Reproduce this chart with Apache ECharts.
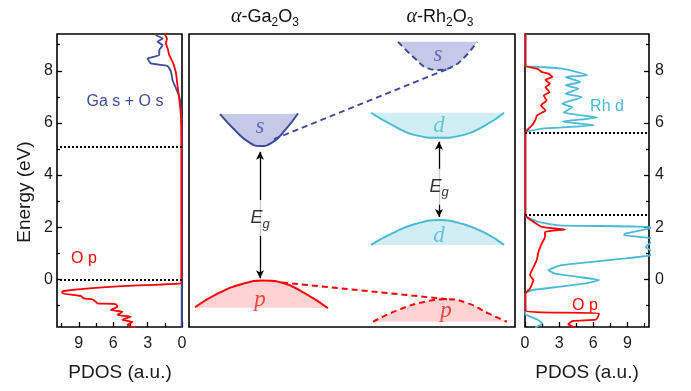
<!DOCTYPE html>
<html><head><meta charset="utf-8">
<script src="https://cdn.jsdelivr.net/npm/echarts@6/dist/echarts.min.js"></script>
<style>html,body{margin:0;padding:0;background:#fff}#c{width:691px;height:391px}</style>
</head><body><div id="c"></div>
<script>
// ---------- axes ----------
const energyRange = [-1.83, 9.41];
const energyTicks = [0, 2, 4, 6, 8];
const energyMinorTicks = [-1, 1, 3, 5, 7, 9];
const pdosRange = [0, 10.9];
const pdosTicks = [0, 3, 6, 9];
const pdosMinorTicks = [1.5, 4.5, 7.5, 10.5];
const schemeRange = [0, 326];

// ---------- PDOS data: [pdos, energy] ----------
const gaOpPdos = [[1.46,9.41],[1.46,9.37],[1.31,9.24],[1.4,9.05],[1.25,8.85],[1.11,8.6],[0.82,8.34],[0.67,8.15],[0.52,7.9],[0.38,7.39],[0.23,6.88],[0.09,6.24],[0.05,5.5],[0.05,0.0],[0.09,-0.155],[5.19,-0.26],[8.1,-0.345],[10.15,-0.44],[10.44,-0.475],[10.44,-0.54],[8.84,-0.64],[8.55,-0.73],[7.82,-0.77],[7.52,-0.86],[7.38,-0.92],[5.77,-0.95],[5.63,-1.05],[6.21,-1.18],[5.19,-1.24],[5.63,-1.37],[4.46,-1.43],[5.19,-1.56],[4.31,-1.63],[4.75,-1.75],[4.02,-1.88]];
const gaSPdos = [[2.27,9.41],[2.27,9.37],[1.69,9.24],[2.13,9.11],[1.69,8.98],[1.98,8.79],[1.98,8.6],[3.0,8.47],[2.71,8.28],[1.25,8.18],[0.96,7.96],[0.82,7.64],[0.52,7.32],[0.23,7.0],[0.09,6.49],[0.04,6.0],[0.03,-1.9]];
const rhOpPdos = [[0.05,9.41],[0.05,8.2],[0.05,8.17],[1.06,8.08],[1.5,7.95],[2.1,7.88],[2.4,7.76],[1.8,7.65],[2.2,7.5],[1.8,7.37],[2.15,7.18],[1.65,7.05],[1.9,6.86],[1.4,6.67],[1.8,6.48],[1.06,6.29],[0.9,6.1],[0.6,5.9],[0.18,5.72],[0.04,5.65],[0.04,2.5],[0.15,2.39],[1.47,2.01],[3.53,1.91],[1.76,1.82],[1.76,1.63],[1.47,1.37],[1.18,1.05],[1.03,0.73],[0.74,0.47],[0.44,0.16],[0.74,-0.03],[0.44,-0.35],[0.04,-0.55],[0.04,-1.2],[1.5,-1.27],[6.5,-1.3],[6.4,-1.45],[6.2,-1.55],[4.2,-1.6],[3.8,-1.72],[4.4,-1.85]];
const rhDPdos = [[0.03,9.41],[0.03,8.2],[1.2,8.15],[3.27,8.08],[5.47,7.83],[3.56,7.76],[4.88,7.57],[3.56,7.44],[4.7,7.31],[3.56,7.12],[5.0,6.99],[3.27,6.73],[4.15,6.6],[3.4,6.4],[6.35,6.21],[3.27,6.05],[6.06,5.91],[1.5,5.78],[0.3,5.68],[0.03,5.65],[0.03,2.5],[0.15,2.39],[1.18,2.2],[2.94,2.07],[11.5,2.0],[8.8,1.75],[8.7,1.69],[10.0,1.63],[11.5,1.55],[10.6,1.24],[11.2,1.05],[11.0,0.92],[8.8,0.8],[5.9,0.67],[3.2,0.54],[2.06,0.35],[2.65,0.22],[4.7,0.09],[6.5,-0.03],[5.3,-0.16],[2.94,-0.29],[0.59,-0.42],[0.03,-0.55],[0.03,-1.35],[0.18,-1.38],[1.2,-1.57],[1.5,-1.7],[0.9,-1.85]];
const gaGapEdges = [0, 5.08];
const rhGapEdges = [2.46, 5.62];

// ---------- schematic bands: [x, energy] ----------
const gaSBand = [[31,6.34],[46,5.72],[59,5.28],[71,5.11],[83,5.24],[96,5.72],[109,6.36]];
const gaSBandEdge = 6.34;
const rhSBand = [[209,9.11],[226,8.47],[239,8.09],[249,8.03],[263,8.15],[276,8.54],[288,9.11]];
const rhSBandEdge = 9.11;
const rhDUpperBand = [[182,6.39],[203,5.92],[226,5.53],[250,5.43],[274,5.53],[297,5.92],[315,6.39]];
const rhDUpperEdge = 6.39;
const rhDLowerBand = [[182,1.32],[203,1.76],[226,2.12],[250,2.27],[274,2.12],[297,1.76],[315,1.32]];
const rhDLowerEdge = 1.32;
const gaPBand = [[6,-1.07],[29,-0.54],[53,-0.18],[73,-0.05],[93,-0.13],[116,-0.54],[139,-1.11]];
const gaPBandEdge = -1.09;
const rhPBand = [[184,-1.63],[209,-1.18],[236,-0.86],[259,-0.77],[279,-0.92],[299,-1.3],[318,-1.63]];
const rhPBandEdge = -1.63;
const sLink = [[85,5.38],[262,8.12]];
const pLink = [[93,-0.12],[263,-0.78]];
const gaGapArrow = [[71,4.89],[71,0.04]];
const rhGapArrow = [[250,5.28],[250,2.39]];
const gapLabelPos = [[71,2.35],[250,3.55]];
const bandLetterNames = ['s','s','d','d','p','p'];
const bandLetterPos = [[71,5.85],[249,8.62],[250,5.9],[250,1.66],[71,-0.8],[257,-1.22]];

// ---------- styles ----------
const FONT = 'Liberation Sans, Arial, sans-serif';
const SERIF = 'Liberation Serif, Times New Roman, serif';
const BLUE = '#3d4b9b', CYAN = '#4bbad6', RED = '#ff0000';
const BLUE_FILL = 'rgba(90,100,185,0.35)', CYAN_FILL = 'rgba(75,186,214,0.25)', RED_FILL = 'rgba(255,80,80,0.25)';
const letterColors = ['#4f58a6','#4f58a6',CYAN,CYAN,'#e8201a','#e8201a'];

const chart = echarts.init(document.getElementById('c'), null, {renderer:'canvas'});

function energyAxes(grid, pos) {
  return [{
    type:'value', gridIndex:grid, position:pos, min:energyRange[0], max:energyRange[1],
    axisLine:{show:false, onZero:false}, splitLine:{show:false},
    axisTick:{show:true, inside:true, length:5, customValues:energyTicks, lineStyle:{color:'#000', width:1.3}},
    axisLabel:{show:true, customValues:energyTicks, fontSize:16, color:'#1a1a1a', fontFamily:FONT, margin: pos==='left'?4:6}
  },{
    type:'value', gridIndex:grid, position:pos, min:energyRange[0], max:energyRange[1],
    axisLine:{show:false, onZero:false}, splitLine:{show:false},
    axisTick:{show:true, inside:true, length:3, customValues:energyMinorTicks, lineStyle:{color:'#000', width:1.3}},
    axisLabel:{show:false}
  }];
}
function pdosAxes(grid, inverse) {
  return [{
    type:'value', gridIndex:grid, position:'bottom', min:pdosRange[0], max:pdosRange[1], inverse,
    axisLine:{show:false, onZero:false}, splitLine:{show:false},
    axisTick:{show:true, inside:true, length:5, customValues:pdosTicks, lineStyle:{color:'#000', width:1.3}},
    axisLabel:{customValues:pdosTicks, fontSize:16, color:'#1a1a1a', fontFamily:FONT, margin:9}
  },{
    type:'value', gridIndex:grid, position:'bottom', min:pdosRange[0], max:pdosRange[1], inverse,
    axisLine:{show:false, onZero:false}, splitLine:{show:false},
    axisTick:{show:true, inside:true, length:4, customValues:pdosMinorTicks, lineStyle:{color:'#000', width:1.3}},
    axisLabel:{show:false}
  }];
}

const dotted = (vals) => ({
  silent:true, symbol:'none', label:{show:false},
  lineStyle:{color:'#000', type:[2,2], width:2},
  data: vals.map(v => ({yAxis:v}))
});

const pdosLine = (data, color, xi, yi, extra) => Object.assign({
  type:'line', data, xAxisIndex:xi, yAxisIndex:yi, symbol:'none', smooth:0.15,
  lineStyle:{color, width:1.8}, itemStyle:{color}, z:3
}, extra||{});

const bandLine = (data, color, fill, edge, dashed) => ({
  type:'line', data, xAxisIndex:4, yAxisIndex:4, symbol:'none', smooth:true,
  lineStyle:{color, width:2, type: dashed ? [6,4] : 'solid'},
  areaStyle:{color:fill, origin:edge, opacity:1},
  z:3
});

const titleRich = {
  a:{fontFamily:SERIF, fontStyle:'italic', fontSize:20, fill:'#111', lineHeight:20},
  n:{fontFamily:FONT, fontSize:18, fill:'#111', lineHeight:20},
  s:{fontFamily:FONT, fontSize:12, fill:'#111', lineHeight:12, padding:[12,0,0,0]}
};

const option = {
  animation:false,
  textStyle:{fontFamily:FONT},
  grid:[
    {left:57, top:34, width:125, height:293, show:true, borderColor:'#000', borderWidth:1.6},
    {left:189, top:34, width:326, height:293, show:true, borderColor:'#000', borderWidth:1.6},
    {left:525, top:34, width:124, height:293, show:true, borderColor:'#000', borderWidth:1.6}
  ],
  xAxis:[
    ...pdosAxes(0, true),
    ...pdosAxes(2, false),
    {type:'value', gridIndex:1, min:schemeRange[0], max:schemeRange[1], show:false}
  ],
  yAxis:[
    ...energyAxes(0, 'left'),
    ...energyAxes(2, 'right'),
    {type:'value', gridIndex:1, min:energyRange[0], max:energyRange[1], show:false}
  ],
  series:[
    pdosLine(gaSPdos, BLUE, 0, 0),
    pdosLine(gaOpPdos, RED, 0, 0, {markLine:dotted(gaGapEdges)}),
    pdosLine(rhDPdos, CYAN, 2, 2),
    pdosLine(rhOpPdos, RED, 2, 2, {markLine:dotted(rhGapEdges)}),
    bandLine(gaSBand, BLUE, BLUE_FILL, gaSBandEdge, false),
    bandLine(rhSBand, BLUE, BLUE_FILL, rhSBandEdge, true),
    bandLine(rhDUpperBand, CYAN, CYAN_FILL, rhDUpperEdge, false),
    bandLine(rhDLowerBand, CYAN, CYAN_FILL, rhDLowerEdge, false),
    bandLine(gaPBand, RED, RED_FILL, gaPBandEdge, false),
    bandLine(rhPBand, RED, RED_FILL, rhPBandEdge, true),
    {type:'line', data:sLink, xAxisIndex:4, yAxisIndex:4, symbol:'none', lineStyle:{color:BLUE, width:2, type:[6,4]}, z:3},
    {type:'line', data:pLink, xAxisIndex:4, yAxisIndex:4, symbol:'none', lineStyle:{color:RED, width:2, type:[6,4]}, z:3,
     markLine:{silent:true, symbol:['arrow','arrow'], symbolSize:[6,8], label:{show:false},
       lineStyle:{color:'#000', width:1.3, type:'solid'},
       data:[[{coord:gaGapArrow[0]},{coord:gaGapArrow[1]}],[{coord:rhGapArrow[0]},{coord:rhGapArrow[1]}]]}},
    {type:'scatter', xAxisIndex:4, yAxisIndex:4, symbolSize:1, itemStyle:{color:'rgba(0,0,0,0)'}, z:10,
     data: gapLabelPos.map(p => ({value:p})),
     label:{show:true, position:'inside', formatter:'{e|E}{g|g}', backgroundColor:'#fff', padding:[9,2,9,2],
       rich:{e:{fontStyle:'italic', fontSize:18, color:'#000', fontFamily:FONT, lineHeight:18},
             g:{fontStyle:'italic', fontSize:13, color:'#000', fontFamily:FONT, lineHeight:13, padding:[12,0,0,0]}}}},
    {type:'scatter', xAxisIndex:4, yAxisIndex:4, symbolSize:1, itemStyle:{color:'rgba(0,0,0,0)'}, z:10,
     data: bandLetterPos.map((p,i) => ({value:p, name:bandLetterNames[i],
       label:{color:letterColors[i]}})),
     label:{show:true, position:'inside', formatter:'{b}', fontFamily:SERIF, fontStyle:'italic', fontSize:23}}
  ],
  graphic:[
    {type:'text', x:265, y:17, style:{text:'{a|α}{n|-Ga}{s|2}{n|O}{s|3}', align:'center', verticalAlign:'middle', rich:titleRich}},
    {type:'text', x:440, y:17, style:{text:'{a|α}{n|-Rh}{s|2}{n|O}{s|3}', align:'center', verticalAlign:'middle', rich:titleRich}},
    {type:'text', x:25, y:192, rotation:Math.PI/2, style:{text:'Energy (eV)', fontFamily:FONT, fontSize:19, fill:'#1a1a1a', align:'center', verticalAlign:'middle'}},
    {type:'text', x:120, y:373, style:{text:'PDOS (a.u.)', fontFamily:FONT, fontSize:19, fill:'#1a1a1a', align:'center', verticalAlign:'middle'}},
    {type:'text', x:587, y:373, style:{text:'PDOS (a.u.)', fontFamily:FONT, fontSize:19, fill:'#1a1a1a', align:'center', verticalAlign:'middle'}},
    {type:'text', x:125, y:102, style:{text:'Ga s + O s', fontFamily:FONT, fontSize:16, fill:BLUE, align:'center', verticalAlign:'middle'}},
    {type:'text', x:84, y:259, style:{text:'O p', fontFamily:FONT, fontSize:16, fill:RED, align:'center', verticalAlign:'middle'}},
    {type:'text', x:607, y:107, style:{text:'Rh d', fontFamily:FONT, fontSize:16, fill:CYAN, align:'center', verticalAlign:'middle'}},
    {type:'text', x:585, y:306, style:{text:'O p', fontFamily:FONT, fontSize:16, fill:RED, align:'center', verticalAlign:'middle'}}
  ]
};
chart.setOption(option);
</script>
</body></html>
